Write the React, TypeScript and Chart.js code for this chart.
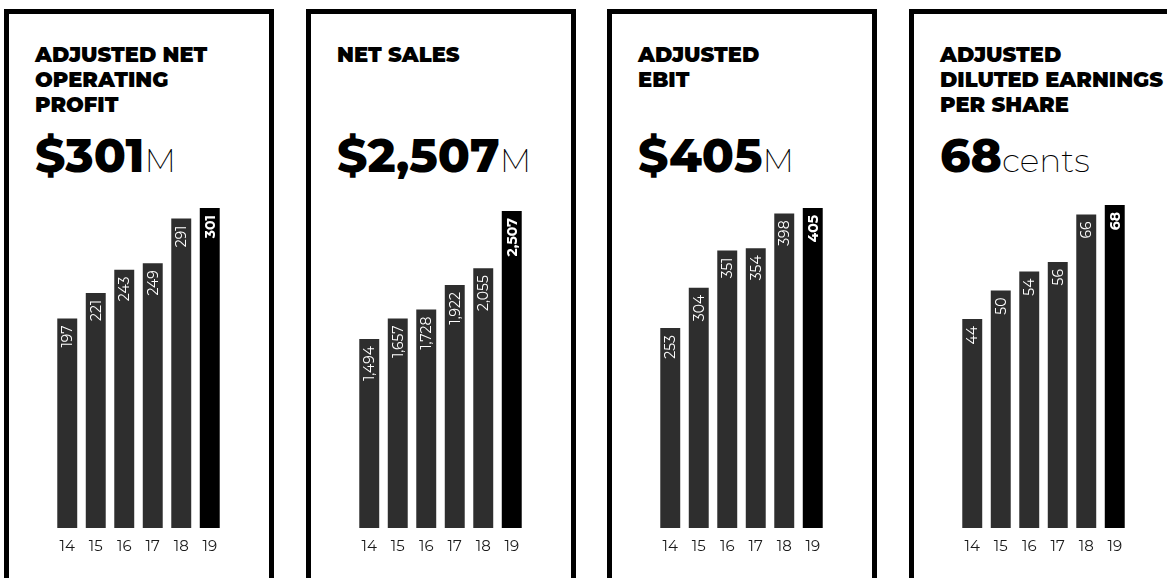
import React, { useEffect, useRef } from "react";
import { Chart, registerables } from "chart.js";

Chart.register(...registerables);

const YEARS = ["14", "15", "16", "17", "18", "19"];
const OPERATING_PROFIT = [197, 221, 243, 249, 291, 301];
const NET_SALES = [1494, 1657, 1728, 1922, 2055, 2507];
const EBIT = [253, 304, 351, 354, 398, 405];
const EPS_CENTS = [44, 50, 54, 56, 66, 68];

const TITLES = [
  ["ADJUSTED NET", "OPERATING", "PROFIT"],
  ["NET SALES"],
  ["ADJUSTED", "EBIT"],
  ["ADJUSTED", "DILUTED EARNINGS", "PER SHARE"],
];
const HEADLINES = ["$301", "$2,507", "$405", "68"];
const UNITS = ["M", "M", "M", "cents"];
const SERIES = [OPERATING_PROFIT, NET_SALES, EBIT, EPS_CENTS];
const AXIS_MAX = [308.5, 2594, 415, 69.05];

const PANEL_LEFT = [4, 306, 607, 909];
const FONT = "Montserrat, Inter, 'Noto Sans', sans-serif";
const BAR_COLOR = "#2e2e2e";
const LAST_BAR_COLOR = "#000000";

const fmt = (v: number) => v.toLocaleString("en-US");

const barLabelPlugin = {
  id: "barLabels",
  afterDatasetsDraw(chart: any) {
    const ctx = chart.ctx;
    const meta = chart.getDatasetMeta(0);
    const data = chart.data.datasets[0].data as number[];
    meta.data.forEach((bar: any, i: number) => {
      const last = i === data.length - 1;
      ctx.save();
      ctx.translate(bar.x, bar.y + 7);
      ctx.rotate(-Math.PI / 2);
      ctx.font = `${last ? 700 : 400} 14px ${FONT}`;
      ctx.fillStyle = "#ffffff";
      ctx.textAlign = "right";
      ctx.textBaseline = "middle";
      ctx.fillText(fmt(data[i]), 0, 1);
      ctx.restore();
    });
  },
};

function Panel({ idx }: { idx: number }) {
  const ref = useRef<HTMLCanvasElement>(null);
  const values = SERIES[idx];
  const left = PANEL_LEFT[idx];

  useEffect(() => {
    const chart = new Chart(ref.current as HTMLCanvasElement, {
      type: "bar",
      data: {
        labels: YEARS,
        datasets: [
          {
            data: values,
            backgroundColor: values.map((_, i) =>
              i === values.length - 1 ? LAST_BAR_COLOR : BAR_COLOR
            ),
            borderWidth: 0,
            categoryPercentage: 1,
            barPercentage: 0.7,
          },
        ],
      },
      options: {
        animation: false,
        responsive: false,
        maintainAspectRatio: false,
        layout: { padding: { left: 49, right: 50, top: 10, bottom: 12 } },
        plugins: {
          legend: { display: false },
          tooltip: { enabled: false },
          title: { display: false },
        },
        scales: {
          x: {
            grid: { display: false, drawTicks: false },
            border: { display: false },
            ticks: {
              color: "#1a1a1a",
              font: { family: FONT, size: 15 },
              padding: 10,
              maxRotation: 0,
              autoSkip: false,
            },
          },
          y: { display: false, min: 0, max: AXIS_MAX[idx] },
        },
      },
      plugins: [barLabelPlugin],
    });
    return () => chart.destroy();
  }, []);

  return (
    <>
      <div
        style={{
          position: "absolute",
          left,
          top: 9,
          width: 270,
          height: 640,
          border: "5px solid #000",
          boxSizing: "border-box",
        }}
      />
      <div
        style={{
          position: "absolute",
          left: left + 31,
          top: 42,
          fontFamily: FONT,
          fontWeight: 900,
          fontSize: 21,
          lineHeight: "25px",
          color: "#000",
          whiteSpace: "nowrap",
        }}
      >
        {TITLES[idx].map((t, i) => (
          <div key={i}>{t}</div>
        ))}
      </div>
      <div
        style={{
          position: "absolute",
          left: left + 31,
          top: 131,
          fontFamily: FONT,
          lineHeight: "50px",
          color: "#000",
          whiteSpace: "nowrap",
        }}
      >
        <span style={{ fontWeight: 800, fontSize: 47 }}>{HEADLINES[idx]}</span>
        <span style={{ fontWeight: 200, fontSize: 33 }}>{UNITS[idx]}</span>
      </div>
      <canvas
        ref={ref}
        width={270}
        height={388}
        style={{ position: "absolute", left, top: 190, width: 270, height: 388 }}
      />
    </>
  );
}

export default function App() {
  return (
    <div
      style={{
        position: "absolute",
        left: 0,
        top: 0,
        width: 1167,
        height: 578,
        overflow: "hidden",
        background: "#fff",
      }}
    >
      {[0, 1, 2, 3].map((i) => (
        <Panel key={i} idx={i} />
      ))}
    </div>
  );
}
